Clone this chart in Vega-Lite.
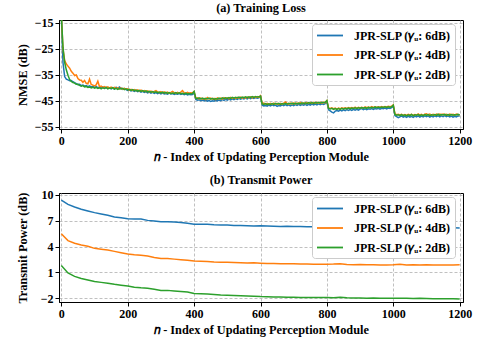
{
  "$schema": "https://vega.github.io/schema/vega-lite/v6.json",
  "background": "white",
  "padding": {"left": 15, "top": 1, "right": 5, "bottom": 2},
  "spacing": 64,
  "bounds": "flush",
  "resolve": {"scale": {"color": "independent"}, "legend": {"color": "independent"}},
  "config": {
    "font": "Liberation Serif",
    "view": {"stroke": "black", "strokeWidth": 1},
    "axis": {
      "labelFont": "Liberation Serif", "labelFontWeight": "bold", "labelFontSize": 12, "labelColor": "black",
      "titleFont": "Liberation Serif", "titleFontWeight": "bold", "titleFontSize": 12.3, "titleColor": "black",
      "domainColor": "black", "domainWidth": 1, "tickColor": "black", "tickSize": 4, "tickWidth": 1, "labelPadding": 2,
      "gridColor": "#b0b0b0", "gridDash": [3, 2], "gridWidth": 0.8
    },
    "title": {"font": "Liberation Serif", "fontWeight": "bold", "fontSize": 12.3, "color": "black", "offset": 3},
    "legend": {
      "orient": "none", "legendX": 253, "legendY": 4, "title": null,
      "fillColor": "white", "strokeColor": "#cccccc", "cornerRadius": 3, "padding": 4,
      "labelFont": "Liberation Serif", "labelFontWeight": "bold", "labelFontSize": 12, "labelColor": "black",
      "symbolType": "M-1,0H3", "symbolSize": 169, "symbolStrokeWidth": 1.8, "rowPadding": 5.5, "labelOffset": 23
    }
  },
  "vconcat": [
    {
      "width": 404, "height": 109,
      "title": "(a) Training Loss",
      "data": {"values": [
        {"n":0,"6dB":-12,"4dB":-12,"2dB":-12},
        {"n":5,"6dB":-30.2,"4dB":-25.0,"2dB":-24.5},
        {"n":10,"6dB":-35.6,"4dB":-29.4,"2dB":-30.1},
        {"n":15,"6dB":-36.6,"4dB":-30.8,"2dB":-33.0},
        {"n":20,"6dB":-36.9,"4dB":-31.6,"2dB":-35.1},
        {"n":25,"6dB":-37.2,"4dB":-32.4,"2dB":-36.7},
        {"n":30,"6dB":-37.1,"4dB":-33.6,"2dB":-37.5},
        {"n":35,"6dB":-37.6,"4dB":-34.3,"2dB":-37.9},
        {"n":40,"6dB":-37.9,"4dB":-35.2,"2dB":-38.1},
        {"n":45,"6dB":-38.3,"4dB":-35.0,"2dB":-38.6},
        {"n":50,"6dB":-38.7,"4dB":-36.4,"2dB":-38.6},
        {"n":55,"6dB":-38.6,"4dB":-36.9,"2dB":-39.0},
        {"n":60,"6dB":-39.1,"4dB":-37.0,"2dB":-39.3},
        {"n":65,"6dB":-38.9,"4dB":-37.8,"2dB":-39.1},
        {"n":70,"6dB":-39.3,"4dB":-37.1,"2dB":-39.6},
        {"n":75,"6dB":-39.1,"4dB":-38.2,"2dB":-39.4},
        {"n":80,"6dB":-39.5,"4dB":-38.4,"2dB":-39.8},
        {"n":85,"6dB":-39.2,"4dB":-36.6,"2dB":-39.6},
        {"n":90,"6dB":-39.6,"4dB":-38.6,"2dB":-40.0},
        {"n":95,"6dB":-39.4,"4dB":-38.9,"2dB":-39.7},
        {"n":100,"6dB":-39.8,"4dB":-39.2,"2dB":-40.1},
        {"n":105,"6dB":-39.5,"4dB":-38.8,"2dB":-39.8},
        {"n":110,"6dB":-39.9,"4dB":-37.4,"2dB":-40.2},
        {"n":115,"6dB":-39.7,"4dB":-39.5,"2dB":-39.9},
        {"n":120,"6dB":-40.0,"4dB":-39.3,"2dB":-40.3},
        {"n":125,"6dB":-39.6,"4dB":-39.8,"2dB":-39.9},
        {"n":130,"6dB":-40.1,"4dB":-39.5,"2dB":-40.2},
        {"n":135,"6dB":-39.8,"4dB":-39.9,"2dB":-39.8},
        {"n":140,"6dB":-40.2,"4dB":-39.6,"2dB":-40.3},
        {"n":145,"6dB":-39.9,"4dB":-40.0,"2dB":-40.0},
        {"n":150,"6dB":-40.3,"4dB":-39.7,"2dB":-40.2},
        {"n":155,"6dB":-40.0,"4dB":-40.1,"2dB":-39.9},
        {"n":160,"6dB":-40.4,"4dB":-39.8,"2dB":-40.4},
        {"n":165,"6dB":-39.7,"4dB":-40.2,"2dB":-40.1},
        {"n":170,"6dB":-40.2,"4dB":-39.9,"2dB":-40.5},
        {"n":175,"6dB":-39.6,"4dB":-40.3,"2dB":-40.2},
        {"n":180,"6dB":-40.1,"4dB":-40.0,"2dB":-40.4},
        {"n":185,"6dB":-40.5,"4dB":-40.4,"2dB":-40.1},
        {"n":190,"6dB":-40.2,"4dB":-40.1,"2dB":-40.6},
        {"n":195,"6dB":-40.6,"4dB":-40.5,"2dB":-40.3},
        {"n":200,"6dB":-40.9,"4dB":-40.3,"2dB":-40.7},
        {"n":205,"6dB":-40.7,"4dB":-40.8,"2dB":-40.5},
        {"n":210,"6dB":-41.1,"4dB":-40.5,"2dB":-40.9},
        {"n":215,"6dB":-40.9,"4dB":-40.9,"2dB":-40.6},
        {"n":220,"6dB":-41.3,"4dB":-40.6,"2dB":-41.0},
        {"n":225,"6dB":-41.0,"4dB":-41.0,"2dB":-40.8},
        {"n":230,"6dB":-41.4,"4dB":-40.7,"2dB":-41.2},
        {"n":235,"6dB":-41.2,"4dB":-41.1,"2dB":-40.9},
        {"n":240,"6dB":-41.6,"4dB":-40.8,"2dB":-41.3},
        {"n":245,"6dB":-41.3,"4dB":-41.2,"2dB":-41.0},
        {"n":250,"6dB":-41.7,"4dB":-41.0,"2dB":-41.4},
        {"n":255,"6dB":-41.5,"4dB":-41.4,"2dB":-41.1},
        {"n":260,"6dB":-41.9,"4dB":-41.1,"2dB":-41.5},
        {"n":265,"6dB":-41.6,"4dB":-41.5,"2dB":-41.3},
        {"n":270,"6dB":-42.0,"4dB":-41.2,"2dB":-41.6},
        {"n":275,"6dB":-41.7,"4dB":-41.6,"2dB":-41.4},
        {"n":280,"6dB":-42.1,"4dB":-41.3,"2dB":-41.7},
        {"n":285,"6dB":-41.8,"4dB":-41.0,"2dB":-41.5},
        {"n":290,"6dB":-42.2,"4dB":-41.5,"2dB":-41.8},
        {"n":295,"6dB":-41.9,"4dB":-41.8,"2dB":-41.6},
        {"n":300,"6dB":-42.3,"4dB":-41.4,"2dB":-41.9},
        {"n":305,"6dB":-42.0,"4dB":-41.8,"2dB":-41.6},
        {"n":310,"6dB":-42.3,"4dB":-41.5,"2dB":-42.0},
        {"n":315,"6dB":-42.1,"4dB":-41.9,"2dB":-41.7},
        {"n":320,"6dB":-42.4,"4dB":-41.6,"2dB":-42.1},
        {"n":325,"6dB":-42.0,"4dB":-42.0,"2dB":-41.8},
        {"n":330,"6dB":-42.3,"4dB":-41.7,"2dB":-42.2},
        {"n":335,"6dB":-42.1,"4dB":-41.3,"2dB":-41.9},
        {"n":340,"6dB":-42.5,"4dB":-41.8,"2dB":-42.1},
        {"n":345,"6dB":-42.2,"4dB":-42.1,"2dB":-41.8},
        {"n":350,"6dB":-42.4,"4dB":-41.7,"2dB":-42.2},
        {"n":355,"6dB":-42.1,"4dB":-42.0,"2dB":-41.9},
        {"n":360,"6dB":-42.5,"4dB":-41.6,"2dB":-42.2},
        {"n":365,"6dB":-42.2,"4dB":-41.0,"2dB":-42.0},
        {"n":370,"6dB":-42.6,"4dB":-41.8,"2dB":-42.3},
        {"n":375,"6dB":-42.3,"4dB":-42.1,"2dB":-42.0},
        {"n":380,"6dB":-42.7,"4dB":-41.7,"2dB":-42.3},
        {"n":385,"6dB":-42.4,"4dB":-42.0,"2dB":-42.1},
        {"n":390,"6dB":-42.6,"4dB":-41.8,"2dB":-42.2},
        {"n":395,"6dB":-42.5,"4dB":-41.9,"2dB":-42.1},
        {"n":400,"6dB":-41.9,"4dB":-41.4,"2dB":-41.3},
        {"n":405,"6dB":-44.4,"4dB":-44.0,"2dB":-43.9},
        {"n":410,"6dB":-44.7,"4dB":-43.8,"2dB":-44.1},
        {"n":415,"6dB":-44.5,"4dB":-44.2,"2dB":-43.8},
        {"n":420,"6dB":-44.9,"4dB":-43.9,"2dB":-44.2},
        {"n":425,"6dB":-44.6,"4dB":-44.3,"2dB":-43.9},
        {"n":430,"6dB":-45.0,"4dB":-44.0,"2dB":-44.3},
        {"n":435,"6dB":-44.7,"4dB":-44.4,"2dB":-44.0},
        {"n":440,"6dB":-45.1,"4dB":-43.7,"2dB":-44.2},
        {"n":445,"6dB":-44.8,"4dB":-44.2,"2dB":-43.9},
        {"n":450,"6dB":-45.2,"4dB":-43.9,"2dB":-44.3},
        {"n":455,"6dB":-44.9,"4dB":-44.3,"2dB":-44.0},
        {"n":460,"6dB":-45.1,"4dB":-44.0,"2dB":-44.4},
        {"n":465,"6dB":-44.7,"4dB":-44.4,"2dB":-44.1},
        {"n":470,"6dB":-45.0,"4dB":-43.8,"2dB":-44.3},
        {"n":475,"6dB":-44.6,"4dB":-44.2,"2dB":-43.9},
        {"n":480,"6dB":-44.9,"4dB":-43.9,"2dB":-44.2},
        {"n":485,"6dB":-44.5,"4dB":-44.3,"2dB":-43.8},
        {"n":490,"6dB":-44.8,"4dB":-43.7,"2dB":-44.1},
        {"n":495,"6dB":-44.4,"4dB":-44.1,"2dB":-43.8},
        {"n":500,"6dB":-44.7,"4dB":-43.8,"2dB":-44.0},
        {"n":505,"6dB":-44.3,"4dB":-44.2,"2dB":-43.7},
        {"n":510,"6dB":-44.6,"4dB":-43.6,"2dB":-44.0},
        {"n":515,"6dB":-44.2,"4dB":-44.0,"2dB":-43.6},
        {"n":520,"6dB":-44.5,"4dB":-43.7,"2dB":-43.9},
        {"n":525,"6dB":-44.1,"4dB":-44.1,"2dB":-43.6},
        {"n":530,"6dB":-44.4,"4dB":-43.6,"2dB":-43.8},
        {"n":535,"6dB":-44.0,"4dB":-43.9,"2dB":-43.5},
        {"n":540,"6dB":-44.3,"4dB":-43.5,"2dB":-43.8},
        {"n":545,"6dB":-44.0,"4dB":-43.9,"2dB":-43.5},
        {"n":550,"6dB":-44.2,"4dB":-43.6,"2dB":-43.7},
        {"n":555,"6dB":-43.9,"4dB":-43.9,"2dB":-43.4},
        {"n":560,"6dB":-44.2,"4dB":-43.5,"2dB":-43.7},
        {"n":565,"6dB":-43.8,"4dB":-43.8,"2dB":-43.4},
        {"n":570,"6dB":-44.1,"4dB":-43.4,"2dB":-43.6},
        {"n":575,"6dB":-43.8,"4dB":-43.8,"2dB":-43.3},
        {"n":580,"6dB":-44.0,"4dB":-43.4,"2dB":-43.6},
        {"n":585,"6dB":-43.7,"4dB":-43.7,"2dB":-43.3},
        {"n":590,"6dB":-43.9,"4dB":-43.3,"2dB":-43.5},
        {"n":595,"6dB":-43.8,"4dB":-43.6,"2dB":-43.4},
        {"n":600,"6dB":-43.3,"4dB":-43.0,"2dB":-43.1},
        {"n":605,"6dB":-46.6,"4dB":-46.0,"2dB":-46.1},
        {"n":610,"6dB":-46.9,"4dB":-45.8,"2dB":-46.3},
        {"n":615,"6dB":-46.7,"4dB":-46.2,"2dB":-46.0},
        {"n":620,"6dB":-47.0,"4dB":-45.9,"2dB":-46.4},
        {"n":625,"6dB":-46.6,"4dB":-46.3,"2dB":-46.1},
        {"n":630,"6dB":-46.9,"4dB":-45.9,"2dB":-46.3},
        {"n":635,"6dB":-46.5,"4dB":-46.2,"2dB":-46.0},
        {"n":640,"6dB":-46.8,"4dB":-45.8,"2dB":-46.3},
        {"n":645,"6dB":-46.6,"4dB":-46.2,"2dB":-45.9},
        {"n":650,"6dB":-47.1,"4dB":-45.9,"2dB":-46.2},
        {"n":655,"6dB":-46.7,"4dB":-46.3,"2dB":-45.9},
        {"n":660,"6dB":-46.9,"4dB":-45.9,"2dB":-46.3},
        {"n":665,"6dB":-46.5,"4dB":-46.2,"2dB":-46.0},
        {"n":670,"6dB":-46.8,"4dB":-45.8,"2dB":-46.2},
        {"n":675,"6dB":-46.4,"4dB":-45.4,"2dB":-45.9},
        {"n":680,"6dB":-46.8,"4dB":-45.9,"2dB":-46.2},
        {"n":685,"6dB":-46.5,"4dB":-46.2,"2dB":-45.9},
        {"n":690,"6dB":-46.9,"4dB":-45.8,"2dB":-46.1},
        {"n":695,"6dB":-46.5,"4dB":-46.1,"2dB":-45.8},
        {"n":700,"6dB":-46.8,"4dB":-45.7,"2dB":-46.2},
        {"n":705,"6dB":-46.4,"4dB":-46.1,"2dB":-45.8},
        {"n":710,"6dB":-46.7,"4dB":-45.8,"2dB":-46.1},
        {"n":715,"6dB":-46.3,"4dB":-46.0,"2dB":-45.8},
        {"n":720,"6dB":-46.7,"4dB":-45.6,"2dB":-46.1},
        {"n":725,"6dB":-46.4,"4dB":-46.0,"2dB":-45.7},
        {"n":730,"6dB":-46.6,"4dB":-45.7,"2dB":-46.0},
        {"n":735,"6dB":-46.3,"4dB":-46.0,"2dB":-45.7},
        {"n":740,"6dB":-46.7,"4dB":-45.6,"2dB":-46.0},
        {"n":745,"6dB":-46.3,"4dB":-45.9,"2dB":-45.6},
        {"n":750,"6dB":-46.6,"4dB":-45.6,"2dB":-45.9},
        {"n":755,"6dB":-46.2,"4dB":-45.9,"2dB":-45.6},
        {"n":760,"6dB":-46.5,"4dB":-45.5,"2dB":-45.9},
        {"n":765,"6dB":-46.2,"4dB":-45.9,"2dB":-45.6},
        {"n":770,"6dB":-46.5,"4dB":-45.5,"2dB":-45.8},
        {"n":775,"6dB":-46.1,"4dB":-45.8,"2dB":-45.5},
        {"n":780,"6dB":-46.4,"4dB":-45.5,"2dB":-45.8},
        {"n":785,"6dB":-46.1,"4dB":-45.8,"2dB":-45.5},
        {"n":790,"6dB":-46.3,"4dB":-45.4,"2dB":-45.7},
        {"n":795,"6dB":-46.0,"4dB":-45.7,"2dB":-45.5},
        {"n":800,"6dB":-45.3,"4dB":-44.9,"2dB":-44.8},
        {"n":805,"6dB":-48.4,"4dB":-47.7,"2dB":-47.9},
        {"n":810,"6dB":-48.8,"4dB":-47.9,"2dB":-48.1},
        {"n":815,"6dB":-49.3,"4dB":-47.6,"2dB":-47.8},
        {"n":820,"6dB":-49.6,"4dB":-48.0,"2dB":-48.2},
        {"n":825,"6dB":-48.9,"4dB":-47.7,"2dB":-47.9},
        {"n":830,"6dB":-48.7,"4dB":-48.1,"2dB":-48.2},
        {"n":835,"6dB":-48.9,"4dB":-47.7,"2dB":-47.9},
        {"n":840,"6dB":-48.5,"4dB":-48.0,"2dB":-48.2},
        {"n":845,"6dB":-48.8,"4dB":-47.6,"2dB":-47.8},
        {"n":850,"6dB":-48.4,"4dB":-47.9,"2dB":-48.1},
        {"n":855,"6dB":-48.7,"4dB":-47.6,"2dB":-47.8},
        {"n":860,"6dB":-48.3,"4dB":-47.9,"2dB":-48.0},
        {"n":865,"6dB":-48.6,"4dB":-47.5,"2dB":-47.7},
        {"n":870,"6dB":-48.3,"4dB":-47.8,"2dB":-48.0},
        {"n":875,"6dB":-48.6,"4dB":-47.5,"2dB":-47.7},
        {"n":880,"6dB":-48.2,"4dB":-47.8,"2dB":-47.9},
        {"n":885,"6dB":-48.5,"4dB":-47.4,"2dB":-47.6},
        {"n":890,"6dB":-48.2,"4dB":-47.8,"2dB":-47.9},
        {"n":895,"6dB":-48.5,"4dB":-47.4,"2dB":-47.6},
        {"n":900,"6dB":-48.1,"4dB":-47.7,"2dB":-47.8},
        {"n":905,"6dB":-47.9,"4dB":-47.4,"2dB":-47.5},
        {"n":910,"6dB":-48.3,"4dB":-47.7,"2dB":-47.8},
        {"n":915,"6dB":-48.0,"4dB":-47.3,"2dB":-47.5},
        {"n":920,"6dB":-48.3,"4dB":-47.6,"2dB":-47.8},
        {"n":925,"6dB":-48.0,"4dB":-47.3,"2dB":-47.4},
        {"n":930,"6dB":-48.2,"4dB":-47.6,"2dB":-47.7},
        {"n":935,"6dB":-47.9,"4dB":-47.2,"2dB":-47.4},
        {"n":940,"6dB":-48.2,"4dB":-47.5,"2dB":-47.7},
        {"n":945,"6dB":-47.9,"4dB":-47.2,"2dB":-47.3},
        {"n":950,"6dB":-48.1,"4dB":-47.5,"2dB":-47.6},
        {"n":955,"6dB":-47.8,"4dB":-47.2,"2dB":-47.3},
        {"n":960,"6dB":-48.1,"4dB":-47.4,"2dB":-47.6},
        {"n":965,"6dB":-47.8,"4dB":-47.1,"2dB":-47.3},
        {"n":970,"6dB":-48.0,"4dB":-47.4,"2dB":-47.5},
        {"n":975,"6dB":-47.7,"4dB":-47.1,"2dB":-47.2},
        {"n":980,"6dB":-48.0,"4dB":-47.3,"2dB":-47.5},
        {"n":985,"6dB":-47.7,"4dB":-47.0,"2dB":-47.2},
        {"n":990,"6dB":-47.9,"4dB":-47.2,"2dB":-47.4},
        {"n":995,"6dB":-47.6,"4dB":-47.0,"2dB":-47.2},
        {"n":1000,"6dB":-46.9,"4dB":-46.5,"2dB":-46.6},
        {"n":1005,"6dB":-50.6,"4dB":-50.0,"2dB":-50.2},
        {"n":1010,"6dB":-51.0,"4dB":-50.3,"2dB":-50.5},
        {"n":1015,"6dB":-51.4,"4dB":-50.1,"2dB":-50.3},
        {"n":1020,"6dB":-51.1,"4dB":-50.4,"2dB":-50.6},
        {"n":1025,"6dB":-50.7,"4dB":-50.1,"2dB":-50.2},
        {"n":1030,"6dB":-51.2,"4dB":-50.5,"2dB":-50.6},
        {"n":1035,"6dB":-50.9,"4dB":-50.2,"2dB":-50.3},
        {"n":1040,"6dB":-51.3,"4dB":-50.5,"2dB":-50.7},
        {"n":1045,"6dB":-50.8,"4dB":-50.1,"2dB":-50.3},
        {"n":1050,"6dB":-51.2,"4dB":-50.4,"2dB":-50.6},
        {"n":1055,"6dB":-50.9,"4dB":-50.1,"2dB":-50.2},
        {"n":1060,"6dB":-51.3,"4dB":-50.5,"2dB":-50.7},
        {"n":1065,"6dB":-50.8,"4dB":-50.2,"2dB":-50.3},
        {"n":1070,"6dB":-51.1,"4dB":-50.4,"2dB":-50.5},
        {"n":1075,"6dB":-50.7,"4dB":-50.0,"2dB":-50.2},
        {"n":1080,"6dB":-51.2,"4dB":-50.4,"2dB":-50.6},
        {"n":1085,"6dB":-50.8,"4dB":-50.1,"2dB":-50.3},
        {"n":1090,"6dB":-51.1,"4dB":-50.5,"2dB":-50.6},
        {"n":1095,"6dB":-50.7,"4dB":-50.1,"2dB":-50.2},
        {"n":1100,"6dB":-51.0,"4dB":-49.9,"2dB":-50.5},
        {"n":1105,"6dB":-50.7,"4dB":-50.3,"2dB":-50.2},
        {"n":1110,"6dB":-51.2,"4dB":-50.0,"2dB":-50.6},
        {"n":1115,"6dB":-50.8,"4dB":-50.4,"2dB":-50.3},
        {"n":1120,"6dB":-51.1,"4dB":-50.1,"2dB":-50.5},
        {"n":1125,"6dB":-50.7,"4dB":-50.4,"2dB":-50.2},
        {"n":1130,"6dB":-51.0,"4dB":-50.0,"2dB":-50.5},
        {"n":1135,"6dB":-50.6,"4dB":-50.3,"2dB":-50.1},
        {"n":1140,"6dB":-51.1,"4dB":-50.0,"2dB":-50.5},
        {"n":1145,"6dB":-50.7,"4dB":-50.3,"2dB":-50.2},
        {"n":1150,"6dB":-51.0,"4dB":-50.0,"2dB":-50.4},
        {"n":1155,"6dB":-50.6,"4dB":-50.3,"2dB":-50.1},
        {"n":1160,"6dB":-51.0,"4dB":-50.1,"2dB":-50.5},
        {"n":1165,"6dB":-50.7,"4dB":-50.4,"2dB":-50.2},
        {"n":1170,"6dB":-51.1,"4dB":-50.0,"2dB":-50.5},
        {"n":1175,"6dB":-50.8,"4dB":-50.3,"2dB":-50.2},
        {"n":1180,"6dB":-51.2,"4dB":-50.1,"2dB":-50.5},
        {"n":1185,"6dB":-50.9,"4dB":-50.4,"2dB":-50.3},
        {"n":1190,"6dB":-51.1,"4dB":-50.0,"2dB":-50.4},
        {"n":1195,"6dB":-50.7,"4dB":-50.2,"2dB":-50.1},
        {"n":1200,"6dB":-50.9,"4dB":-50.3,"2dB":-50.4}
      ]},
      "transform": [{"fold": ["6dB", "4dB", "2dB"], "as": ["key", "value"]}],
      "mark": {"type": "line", "strokeWidth": 1.5, "clip": true},
      "encoding": {
        "x": {"field": "n", "type": "quantitative", "scale": {"domain": [-7, 1210], "nice": false, "zero": false},
              "axis": {"values": [0, 200, 400, 600, 800, 1000, 1200], "format": "d", "title": "𝑛 - Index of Updating Perception Module"}},
        "y": {"field": "value", "type": "quantitative", "scale": {"domain": [-55.77, -13.85], "nice": false, "zero": false},
              "axis": {"values": [-55, -45, -35, -25, -15], "format": "d", "title": "NMSE (dB)", "titleX": -30}},
        "color": {"field": "key", "type": "nominal", "scale": {"domain": ["6dB", "4dB", "2dB"], "range": ["#1f77b4", "#ff7f0e", "#2ca02c"]},
                  "legend": {"labelExpr": "'JPR-SLP (𝛾ᵤ: ' + datum.label + ')'"}}
      }
    },
    {
      "width": 404, "height": 109,
      "title": "(b) Transmit Power",
      "data": {"values": [
        {"n":0,"6dB":9.4,"4dB":5.5,"2dB":1.8},
        {"n":20,"6dB":8.9,"4dB":4.7,"2dB":0.95},
        {"n":40,"6dB":8.6,"4dB":4.4,"2dB":0.55},
        {"n":60,"6dB":8.35,"4dB":4.2,"2dB":0.3},
        {"n":80,"6dB":8.15,"4dB":4.05,"2dB":0.12},
        {"n":100,"6dB":7.95,"4dB":3.8,"2dB":-0.05},
        {"n":120,"6dB":7.8,"4dB":3.7,"2dB":-0.15},
        {"n":140,"6dB":7.65,"4dB":3.6,"2dB":-0.25},
        {"n":160,"6dB":7.45,"4dB":3.45,"2dB":-0.38},
        {"n":180,"6dB":7.35,"4dB":3.3,"2dB":-0.48},
        {"n":200,"6dB":7.25,"4dB":3.15,"2dB":-0.58},
        {"n":220,"6dB":7.2,"4dB":3.05,"2dB":-0.72},
        {"n":240,"6dB":7.2,"4dB":3.0,"2dB":-0.78},
        {"n":260,"6dB":7.05,"4dB":2.9,"2dB":-0.82},
        {"n":280,"6dB":6.98,"4dB":2.75,"2dB":-0.95},
        {"n":300,"6dB":6.9,"4dB":2.62,"2dB":-1.1},
        {"n":320,"6dB":6.88,"4dB":2.62,"2dB":-1.08},
        {"n":340,"6dB":6.85,"4dB":2.55,"2dB":-1.15},
        {"n":360,"6dB":6.8,"4dB":2.48,"2dB":-1.22},
        {"n":380,"6dB":6.72,"4dB":2.42,"2dB":-1.28},
        {"n":400,"6dB":6.6,"4dB":2.32,"2dB":-1.45},
        {"n":420,"6dB":6.6,"4dB":2.3,"2dB":-1.48},
        {"n":440,"6dB":6.6,"4dB":2.28,"2dB":-1.5},
        {"n":460,"6dB":6.55,"4dB":2.22,"2dB":-1.55},
        {"n":480,"6dB":6.52,"4dB":2.2,"2dB":-1.62},
        {"n":500,"6dB":6.5,"4dB":2.18,"2dB":-1.65},
        {"n":520,"6dB":6.45,"4dB":2.15,"2dB":-1.68},
        {"n":540,"6dB":6.45,"4dB":2.12,"2dB":-1.7},
        {"n":560,"6dB":6.42,"4dB":2.1,"2dB":-1.73},
        {"n":580,"6dB":6.4,"4dB":2.12,"2dB":-1.75},
        {"n":600,"6dB":6.42,"4dB":2.08,"2dB":-1.8},
        {"n":620,"6dB":6.4,"4dB":2.05,"2dB":-1.82},
        {"n":640,"6dB":6.38,"4dB":2.05,"2dB":-1.85},
        {"n":660,"6dB":6.35,"4dB":2.02,"2dB":-1.85},
        {"n":680,"6dB":6.38,"4dB":2.0,"2dB":-1.88},
        {"n":700,"6dB":6.35,"4dB":2.02,"2dB":-1.88},
        {"n":720,"6dB":6.33,"4dB":1.98,"2dB":-1.9},
        {"n":740,"6dB":6.32,"4dB":1.98,"2dB":-1.9},
        {"n":760,"6dB":6.3,"4dB":1.96,"2dB":-1.92},
        {"n":780,"6dB":6.3,"4dB":1.95,"2dB":-1.92},
        {"n":800,"6dB":6.28,"4dB":1.96,"2dB":-1.9},
        {"n":820,"6dB":6.27,"4dB":1.98,"2dB":-1.95},
        {"n":840,"6dB":6.26,"4dB":2.02,"2dB":-1.88},
        {"n":860,"6dB":6.25,"4dB":1.92,"2dB":-1.95},
        {"n":880,"6dB":6.25,"4dB":1.9,"2dB":-1.96},
        {"n":900,"6dB":6.24,"4dB":1.92,"2dB":-1.97},
        {"n":920,"6dB":6.23,"4dB":1.9,"2dB":-1.98},
        {"n":940,"6dB":6.23,"4dB":1.9,"2dB":-1.97},
        {"n":960,"6dB":6.22,"4dB":1.88,"2dB":-1.98},
        {"n":980,"6dB":6.22,"4dB":1.88,"2dB":-1.99},
        {"n":1000,"6dB":6.21,"4dB":1.9,"2dB":-2.0},
        {"n":1020,"6dB":6.21,"4dB":1.95,"2dB":-1.98},
        {"n":1040,"6dB":6.2,"4dB":1.88,"2dB":-2.0},
        {"n":1060,"6dB":6.2,"4dB":1.9,"2dB":-2.02},
        {"n":1080,"6dB":6.2,"4dB":1.88,"2dB":-2.0},
        {"n":1100,"6dB":6.19,"4dB":1.9,"2dB":-2.03},
        {"n":1120,"6dB":6.19,"4dB":1.86,"2dB":-2.05},
        {"n":1140,"6dB":6.18,"4dB":1.88,"2dB":-2.05},
        {"n":1160,"6dB":6.18,"4dB":1.86,"2dB":-2.06},
        {"n":1180,"6dB":6.18,"4dB":1.88,"2dB":-2.05},
        {"n":1200,"6dB":6.17,"4dB":1.9,"2dB":-2.08}
      ]},
      "transform": [{"fold": ["6dB", "4dB", "2dB"], "as": ["key", "value"]}],
      "mark": {"type": "line", "strokeWidth": 1.5, "clip": true},
      "encoding": {
        "x": {"field": "n", "type": "quantitative", "scale": {"domain": [-7, 1210], "nice": false, "zero": false},
              "axis": {"values": [0, 200, 400, 600, 800, 1000, 1200], "format": "d", "title": "𝑛 - Index of Updating Perception Module"}},
        "y": {"field": "value", "type": "quantitative", "scale": {"domain": [-2.43, 10.23], "nice": false, "zero": false},
              "axis": {"values": [-2, 1, 4, 7, 10], "format": "d", "title": "Transmit Power (dB)", "titleX": -30}},
        "color": {"field": "key", "type": "nominal", "scale": {"domain": ["6dB", "4dB", "2dB"], "range": ["#1f77b4", "#ff7f0e", "#2ca02c"]},
                  "legend": {"labelExpr": "'JPR-SLP (𝛾ᵤ: ' + datum.label + ')'"}}
      }
    }
  ]
}
